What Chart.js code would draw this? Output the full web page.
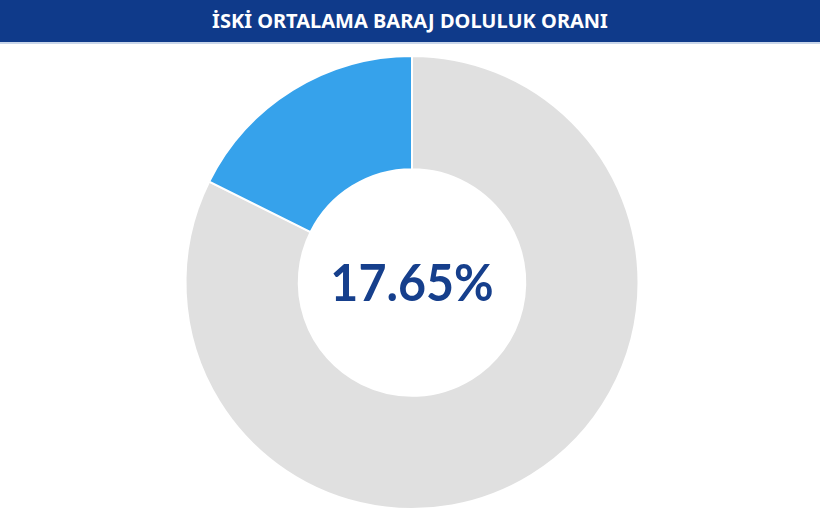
<!DOCTYPE html>
<html>
<head>
<meta charset="utf-8">
<script src="https://cdn.jsdelivr.net/npm/chart.js@4"></script>
<style>
  html, body { margin: 0; padding: 0; background: #fff; }
  #baslik {
    height: 42px; line-height: 42px; background: #0f3a8a; color: #fff;
    text-align: center; font-family: "Noto Sans", sans-serif; font-weight: bold; font-size: 20px;
    border-bottom: 2px solid #c9d6ea;
  }
  #kutu { width: 820px; height: 476px; }
</style>
</head>
<body>
<div id="baslik">İSKİ ORTALAMA BARAJ DOLULUK ORANI</div>
<div id="kutu"><canvas id="pie-chart"></canvas></div>
<script>
const labels = ["Boş", "Dolu"];
const values = [82.35, 17.65];
const colors = ["#e0e0e0", "#36a2eb"];
const centerText = "17.65%";

// ortadaki yüzde yazisi
const ortaYazi = {
  id: 'ortaYazi',
  afterDraw(chart) {
    const ctx = chart.ctx;
    const meta = chart.getDatasetMeta(0).data[0];
    ctx.save();
    ctx.translate(meta.x, meta.y + 2);
    ctx.scale(0.93, 1);
    ctx.font = "bold 52px Lato, sans-serif";
    ctx.fillStyle = "#163f8c";
    ctx.textAlign = "center";
    ctx.textBaseline = "middle";
    ctx.fillText(centerText, 0, 0);
    ctx.restore();
  }
};

new Chart(document.getElementById("pie-chart"), {
  type: 'doughnut',
  data: {
    labels: labels,
    datasets: [{
      data: values,
      backgroundColor: colors,
      borderColor: "#fff",
      borderWidth: 2
    }]
  },
  options: {
    responsive: true,
    maintainAspectRatio: false,
    animation: false,
    cutout: '50%',
    layout: { padding: { top: 11, bottom: 10, left: 4 } },
    plugins: {
      legend: { display: false },
      tooltip: { enabled: false }
    }
  },
  plugins: [ortaYazi]
});
</script>
</body>
</html>
